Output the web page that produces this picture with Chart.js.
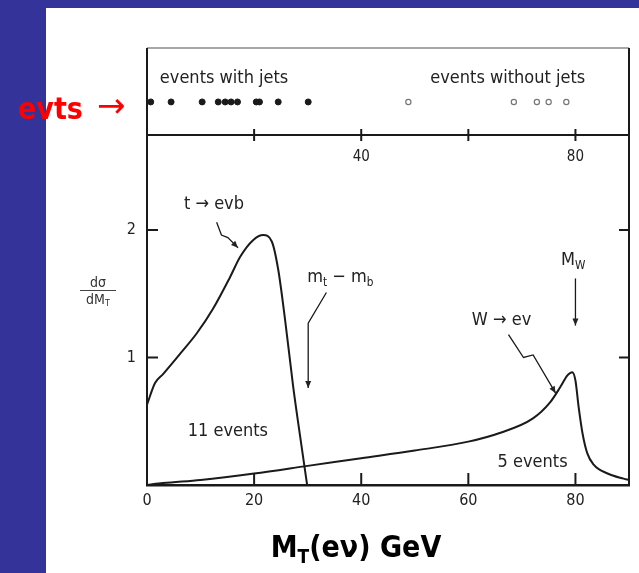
<!DOCTYPE html>
<html>
<head>
<meta charset="utf-8">
<script src="https://cdn.jsdelivr.net/npm/chart.js@4.4.1/dist/chart.umd.min.js"></script>
<style>
  html, body { margin: 0; padding: 0; }
  body { width: 639px; height: 573px; background: #333399; position: relative; overflow: hidden; }
  #panel { position: absolute; left: 46px; top: 8px; width: 593px; height: 565px; background: #fff; }
  canvas { position: absolute; left: 0; top: 0; }
  #evts { position: absolute; left: 18px; top: 87px; color: #ff0000; font: bold 30px "DejaVu Sans Condensed", sans-serif; white-space: nowrap; }
  #evts .arr { font: 34px "DejaVu Sans", sans-serif; margin-left: 14px; position: relative; top: -2px; }
  #ytitle { position: absolute; left: 80px; top: 275px; width: 36px; text-align: center; color: #333;
            font: 14px "DejaVu Sans Condensed", sans-serif; line-height: 14px; }
  #ytitle .num { display: block; border-bottom: 1px solid #444; padding-bottom: 1px; }
  #ytitle .den { display: block; padding-top: 1px; }
  #ytitle sub { font-size: 9px; vertical-align: -2px; line-height: 0; }
  #xtitle { position: absolute; left: 200px; top: 529px; width: 312px; text-align: center; color: #000;
            font: bold 30px "DejaVu Sans Condensed", sans-serif; }
  #xtitle sub { font-size: 19px; vertical-align: -6px; line-height: 0; }
</style>
</head>
<body>
<div id="panel"></div>
<canvas id="main" width="639" height="573"></canvas>
<canvas id="strip" width="639" height="573"></canvas>
<div id="evts">evts<span class="arr">→</span></div>
<div id="ytitle"><span class="num">dσ</span><span class="den">dM<sub>T</sub></span></div>
<div id="xtitle">M<sub>T</sub>(eν) GeV</div>
<script>
// transverse mass spectrum
const T_X = [0, 1.5, 3, 6.2, 9.3, 12.3, 15.5, 17.4, 19.8, 21.7, 23.3, 24.5, 25.8, 27.3, 28.6, 29.9];
const T_Y = [0.63, 0.8, 0.87, 1.03, 1.19, 1.38, 1.63, 1.79, 1.92, 1.96, 1.91, 1.69, 1.29, 0.77, 0.38, 0];

const W_X = [0, 3, 10, 20, 30, 40, 50, 60, 66, 72, 75.3, 77.2, 78.5, 79.4, 80, 80.6, 81.3, 82.2, 83.4, 86, 89, 90];
const W_Y = [0, 0.015, 0.04, 0.09, 0.15, 0.21, 0.27, 0.34, 0.41, 0.52, 0.65, 0.77, 0.86, 0.885, 0.82, 0.61, 0.41, 0.25, 0.16, 0.09, 0.05, 0.04];

// observed events (M_T in GeV)
const JETS_X = [0.7, 4.5, 10.3, 13.3, 14.6, 15.7, 16.9, 20.4, 21.0, 24.5, 30.1];
const NOJETS_X = [48.8, 68.5, 72.8, 75.0, 78.3];

const X_TICKS = [0, 20, 40, 60, 80];
const Y_TICKS = [1, 2];
const TOP_TICKS = [20, 40, 60, 80];
const TOP_LABELS = [40, 80];

const FONT = '"DejaVu Sans Condensed", "Liberation Sans Narrow", sans-serif';
const INK = '#1a1a1a';
const ROW_Y = 0.38;

function line(ctx, x1, y1, x2, y2) {
    ctx.beginPath();
    ctx.moveTo(x1, y1);
    ctx.lineTo(x2, y2);
    ctx.stroke();
}

function drawArrow(ctx, pts) {
    ctx.beginPath();
    pts.forEach(([px, py], i) => i ? ctx.lineTo(px, py) : ctx.moveTo(px, py));
    ctx.stroke();
    const [x1, y1] = pts[pts.length - 2];
    const [x2, y2] = pts[pts.length - 1];
    const a = Math.atan2(y2 - y1, x2 - x1);
    ctx.beginPath();
    ctx.moveTo(x2, y2);
    ctx.lineTo(x2 - 7 * Math.cos(a) + 3 * Math.sin(a), y2 - 7 * Math.sin(a) - 3 * Math.cos(a));
    ctx.lineTo(x2 - 7 * Math.cos(a) - 3 * Math.sin(a), y2 - 7 * Math.sin(a) + 3 * Math.cos(a));
    ctx.closePath();
    ctx.fill();
}

// text with subscripts, centred on (cx, cy)
function drawRich(ctx, parts, cx, cy, size) {
    let w = 0;
    const widths = parts.map(p => {
        ctx.font = (p.sub ? size * 0.65 : size) + 'px ' + FONT;
        const m = ctx.measureText(p.t).width;
        w += m;
        return m;
    });
    let x = cx - w / 2;
    ctx.textAlign = 'left';
    ctx.textBaseline = 'middle';
    parts.forEach((p, i) => {
        ctx.font = (p.sub ? size * 0.65 : size) + 'px ' + FONT;
        ctx.fillText(p.t, x, cy + (p.sub ? size * 0.3 : 0));
        x += widths[i];
    });
}

const NOTES = [
    { parts: [{ t: 't → evb' }], at: [12.5, 2.2], path: [[13.0, 2.06], [13.9, 1.96], [15.1, 1.94], [17.0, 1.86]] },
    { parts: [{ t: 'm' }, { t: 't', sub: true }, { t: ' − m' }, { t: 'b', sub: true }], at: [36.1, 1.63], path: [[33.5, 1.51], [30.1, 1.27], [30.1, 0.76]] },
    { parts: [{ t: 'M' }, { t: 'W', sub: true }], at: [79.6, 1.76], path: [[80, 1.62], [80, 1.25]] },
    { parts: [{ t: 'W → ev' }], at: [66.2, 1.29], path: [[67.5, 1.18], [70.3, 1.0], [72.1, 1.02], [76.3, 0.72]] },
    { parts: [{ t: '11 events' }], at: [15.1, 0.42] },
    { parts: [{ t: '5 events' }], at: [72, 0.18] }
];

const mainDecor = {
    id: 'mainDecor',
    afterDraw(chart) {
        const { ctx, chartArea: a, scales: { x, y } } = chart;
        ctx.save();
        ctx.strokeStyle = INK;
        ctx.fillStyle = INK;
        ctx.lineWidth = 2;
        line(ctx, a.right, a.top, a.right, a.bottom);
        Y_TICKS.forEach(v => {
            const py = y.getPixelForValue(v);
            line(ctx, a.left, py, a.left + 11, py);
            line(ctx, a.right - 10, py, a.right, py);
        });
        X_TICKS.forEach(v => {
            const px = x.getPixelForValue(v);
            line(ctx, px, a.bottom, px, a.bottom - 12);
        });
        ctx.lineWidth = 1.3;
        ctx.fillStyle = '#222';
        NOTES.forEach(n => {
            drawRich(ctx, n.parts, x.getPixelForValue(n.at[0]), y.getPixelForValue(n.at[1]), 18);
            if (n.path) {
                drawArrow(ctx, n.path.map(([dx, dy]) => [x.getPixelForValue(dx), y.getPixelForValue(dy)]));
            }
        });
        ctx.restore();
    }
};

const stripDecor = {
    id: 'stripDecor',
    afterDraw(chart) {
        const { ctx, chartArea: a, scales: { x, y } } = chart;
        ctx.save();
        ctx.strokeStyle = '#8a8a8a';
        ctx.lineWidth = 1.5;
        line(ctx, a.left, a.top, a.right, a.top);
        ctx.strokeStyle = INK;
        ctx.lineWidth = 2;
        line(ctx, a.left, a.top, a.left, a.bottom);
        line(ctx, a.right, a.top, a.right, a.bottom);
        TOP_TICKS.forEach(v => {
            const px = x.getPixelForValue(v);
            line(ctx, px, a.bottom - 6, px, a.bottom + 6);
        });
        ctx.fillStyle = '#222';
        ctx.font = '18px ' + FONT;
        ctx.textAlign = 'left';
        ctx.textBaseline = 'middle';
        ctx.fillText('events with jets', x.getPixelForValue(2.4), y.getPixelForValue(0.655));
        ctx.fillText('events without jets', x.getPixelForValue(52.9), y.getPixelForValue(0.655));
        ctx.restore();
    }
};

function initializeCharts() {
    new Chart(document.getElementById('main'), {
        type: 'line',
        data: {
            datasets: [{
                label: 't → eνb',
                data: T_X.map((v, i) => ({ x: v, y: T_Y[i] })),
                borderColor: INK,
                borderWidth: 2,
                pointRadius: 0,
                cubicInterpolationMode: 'monotone'
            }, {
                label: 'W → eν',
                data: W_X.map((v, i) => ({ x: v, y: W_Y[i] })),
                borderColor: INK,
                borderWidth: 2,
                pointRadius: 0,
                cubicInterpolationMode: 'monotone'
            }]
        },
        options: {
            responsive: false,
            animation: false,
            events: [],
            layout: { padding: { left: 107, right: 10, top: 135, bottom: 58 } },
            plugins: { legend: { display: false }, tooltip: { enabled: false } },
            scales: {
                x: {
                    type: 'linear', min: 0, max: 90,
                    afterFit: s => { s.height = 30; },
                    afterBuildTicks: s => { s.ticks = X_TICKS.map(v => ({ value: v })); },
                    grid: { display: false, drawTicks: false },
                    border: { display: true, color: INK, width: 2.5 },
                    ticks: { padding: 6, color: '#222', font: { family: FONT, size: 16 } }
                },
                y: {
                    type: 'linear', min: 0, max: 2.745,
                    afterFit: s => { s.width = 40; },
                    afterBuildTicks: s => { s.ticks = Y_TICKS.map(v => ({ value: v })); },
                    grid: { display: false, drawTicks: false },
                    border: { display: true, color: INK, width: 2 },
                    ticks: { padding: 11, color: '#222', font: { family: FONT, size: 16 } }
                }
            }
        },
        plugins: [mainDecor]
    });

    new Chart(document.getElementById('strip'), {
        type: 'scatter',
        data: {
            datasets: [{
                label: 'events with jets',
                data: JETS_X.map(v => ({ x: v, y: ROW_Y })),
                pointRadius: 3,
                pointBackgroundColor: INK,
                pointBorderColor: INK
            }, {
                label: 'events without jets',
                data: NOJETS_X.map(v => ({ x: v, y: ROW_Y })),
                pointRadius: 2.6,
                pointBackgroundColor: '#fff',
                pointBorderColor: '#777',
                pointBorderWidth: 1.2
            }]
        },
        options: {
            responsive: false,
            animation: false,
            events: [],
            layout: { padding: { left: 147, right: 10, top: 48, bottom: 408 } },
            plugins: { legend: { display: false }, tooltip: { enabled: false } },
            scales: {
                x: {
                    type: 'linear', min: 0, max: 90,
                    afterFit: s => { s.height = 30; },
                    afterBuildTicks: s => { s.ticks = TOP_TICKS.map(v => ({ value: v })); },
                    grid: { display: false, drawTicks: false },
                    border: { display: true, color: INK, width: 2 },
                    ticks: {
                        padding: 13, color: '#222', font: { family: FONT, size: 15 },
                        callback: v => TOP_LABELS.includes(v) ? String(v) : ''
                    }
                },
                y: { display: false, min: 0, max: 1 }
            }
        },
        plugins: [stripDecor]
    });
}

document.addEventListener('DOMContentLoaded', initializeCharts);
</script>
</body>
</html>
